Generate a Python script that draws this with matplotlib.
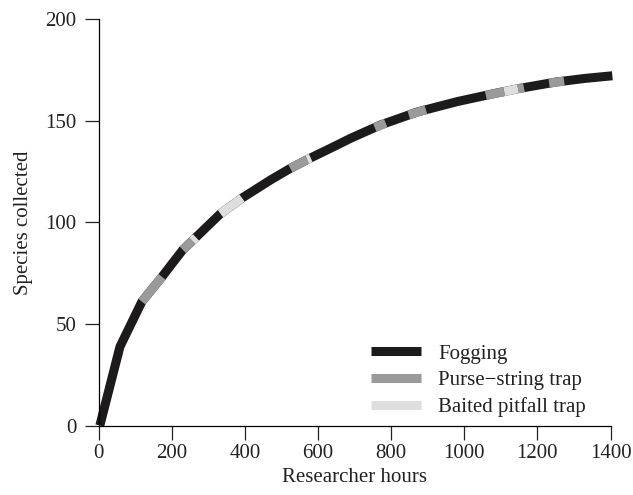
import numpy as np
import matplotlib.pyplot as plt

BLACK = "#1c1a1b"
GREY = "#9a9a9d"
LIGHT = "#dededf"

# fogging curve (researcher hours, species collected)
fog_hours = [3, 58, 118, 173, 196, 230, 264, 296, 333, 392, 470, 524, 570, 643, 690,
             771, 872, 981, 1086, 1155, 1250, 1330, 1405]
fog_species = [0, 38.8, 61, 73.2, 78.6, 86.5, 92.3, 97.9, 104.3, 112, 120.9, 126.6, 130.9, 137.3, 141.5,
               148, 154.4, 159.5, 163.6, 166.1, 169.1, 170.9, 172.2]

# visible pieces of the other two curves (nan = hidden under fogging)
purse_hours = [118, 173, np.nan, 230, 256, np.nan, 524, 570, np.nan, 755, 785, np.nan,
               848, 895, np.nan, 1059, 1109, np.nan, 1147, 1163, np.nan, 1232, 1273]
purse_species = [61, 73.2, np.nan, 86.5, 90.9, np.nan, 126.6, 130.9, np.nan, 146.7, 148.9, np.nan,
                 152.9, 155.5, np.nan, 162.5, 164.4, np.nan, 165.8, 166.4, np.nan, 168.6, 169.6]
bait_hours = [256, 266, np.nan, 333, 392, np.nan, 570, 580, np.nan, 1109, 1147]
bait_species = [90.9, 92.6, np.nan, 104.3, 112, np.nan, 130.9, 131.7, np.nan, 164.4, 165.8]

plt.rcParams["font.family"] = ["Liberation Serif", "DejaVu Serif"]
plt.rcParams["font.size"] = 15

fig = plt.figure(figsize=(6.33, 4.95), dpi=100)
ax = fig.add_axes([0.156, 0.1404, 0.8085, 0.8206])

lw = 6.5
ax.plot(fog_hours, fog_species, color=BLACK, lw=lw, solid_capstyle="butt",
        solid_joinstyle="round", clip_on=False, label="Fogging")
ax.plot(purse_hours, purse_species, color=GREY, lw=lw, solid_capstyle="butt",
        clip_on=False, label="Purse\u2212string trap")
ax.plot(bait_hours, bait_species, color=LIGHT, lw=lw, solid_capstyle="butt",
        clip_on=False, label="Baited pitfall trap")

ax.set_xlim(0, 1400)
ax.set_ylim(0, 200)
ax.set_xticks(range(0, 1401, 200))
ax.set_yticks(range(0, 201, 50))
for s in ["top", "right"]:
    ax.spines[s].set_visible(False)
for s in ["left", "bottom"]:
    ax.spines[s].set_linewidth(0.9)
ax.tick_params(direction="out", length=10, width=0.9, color="#222222",
               labelcolor="#222222")
ax.tick_params(axis="x", pad=3)
ax.tick_params(axis="y", pad=6)
ax.set_xlabel("Researcher hours", color="#222222", labelpad=4)
ax.set_ylabel("Species collected", color="#222222", labelpad=9)

leg = ax.legend(loc="upper left", bbox_to_anchor=(371 / 633, 1 - 344 / 495),
                bbox_transform=fig.transFigure, frameon=False, borderpad=0,
                borderaxespad=0, handlelength=2.4, handletextpad=0.82,
                labelspacing=0.33)
for t in leg.get_texts():
    t.set_color("#222222")

fig.savefig("out.png", dpi=100)
